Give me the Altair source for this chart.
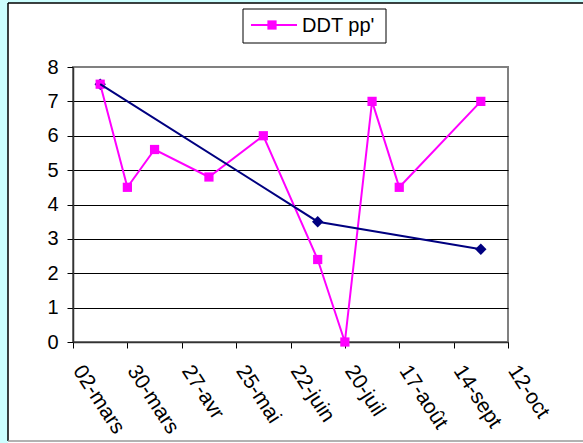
import json
import altair as alt
import pandas as pd

# Sampling dates and measured DDT pp' values
dates = ["2007-03-16", "2007-03-30", "2007-04-13", "2007-05-11", "2007-06-08",
         "2007-07-06", "2007-07-20", "2007-08-03", "2007-08-17", "2007-09-28"]
ddt_pp = [7.5, 4.5, 5.6, 4.8, 6.0, 2.4, 0.0, 7.0, 4.5, 7.0]

# Second (navy) series
trend_dates = ["2007-03-16", "2007-07-06", "2007-09-28"]
trend_values = [7.5, 3.5, 2.7]

# Axis ticks
tick_dates = ["2007-03-02", "2007-03-30", "2007-04-27", "2007-05-25", "2007-06-22",
              "2007-07-20", "2007-08-17", "2007-09-14", "2007-10-12"]
tick_labels = ["02-mars", "30-mars", "27-avr", "25-mai", "22-juin",
               "20-juil", "17-août", "14-sept", "12-oct"]
y_ticks = [0, 1, 2, 3, 4, 5, 6, 7, 8]

FONT = "Liberation Sans"
DAY_MS = 86400000


def ms(d):
    return int(pd.Timestamp(d, tz="UTC").value // 10**6)


df_ddt = pd.DataFrame({"t": [ms(d) for d in dates], "v": ddt_pp})
df_trend = pd.DataFrame({"t": [ms(d) for d in trend_dates], "v": trend_values})
one = pd.DataFrame({"k": [0]})

start = ms(tick_dates[0])
label_expr = "%s[round((datum.value - %d) / %d)]" % (
    json.dumps(tick_labels, ensure_ascii=False), start, 28 * DAY_MS)

x_enc = alt.X(
    "t:T",
    scale=alt.Scale(type="utc", domain=[start, ms(tick_dates[-1])]),
    axis=alt.Axis(
        values=[ms(d) for d in tick_dates], labelExpr=label_expr, title=None,
        labelAngle=57, labelAlign="left", labelBaseline="middle",
        labelPadding=19, labelOffset=4, labelFontSize=21, labelFont=FONT,
        labelColor="#000", tickSize=6, tickColor="#000", grid=False,
        domainColor="#333", domainWidth=1.5, labelOverlap=False,
    ),
)
y_enc = alt.Y(
    "v:Q",
    scale=alt.Scale(domain=[0, 8], nice=False),
    axis=alt.Axis(
        values=y_ticks, title=None, labelFontSize=20, labelFont=FONT,
        labelColor="#000", tickSize=6, tickColor="#000", labelPadding=9,
        domainColor="#333", domainWidth=1.5, labelOverlap=False,
        gridColor={"condition": {"test": "datum.value == 8", "value": "#808080"},
                   "value": "#000000"},
        gridWidth=1,
    ),
)

ddt_line = alt.Chart(df_ddt).mark_line(color="#FF00FF", strokeWidth=2).encode(x=x_enc, y=y_enc)
ddt_pts = alt.Chart(df_ddt).mark_point(
    shape="square", filled=True, size=85, color="#FF00FF", opacity=1
).encode(x=x_enc, y=y_enc)

trend_line = alt.Chart(df_trend).mark_line(color="#000080", strokeWidth=2).encode(x=x_enc, y=y_enc)
trend_pts = alt.Chart(df_trend).mark_point(
    shape="diamond", filled=True, size=130, color="#000080", opacity=1
).encode(x=x_enc, y=y_enc)

# Frame around the chart area
cyan_left = alt.Chart(one).mark_rect(color="#CCFFFF").encode(
    x=alt.value(-73), x2=alt.value(-65), y=alt.value(-67), y2=alt.value(376))
cyan_top = alt.Chart(one).mark_rect(color="#CCFFFF").encode(
    x=alt.value(-73), x2=alt.value(520), y=alt.value(-67), y2=alt.value(-64))
border_left = alt.Chart(one).mark_rule(color="#000", strokeWidth=1.5).encode(
    x=alt.value(-65), y=alt.value(-64), y2=alt.value(374))
border_top = alt.Chart(one).mark_rule(color="#000", strokeWidth=1.5).encode(
    x=alt.value(-65), x2=alt.value(520), y=alt.value(-64))
border_bottom = alt.Chart(one).mark_rule(color="#999", strokeWidth=1.5).encode(
    x=alt.value(-65), x2=alt.value(520), y=alt.value(374))

# Legend box
leg_box = alt.Chart(one).mark_rect(fill="white", stroke="#000", strokeWidth=1).encode(
    x=alt.value(170), x2=alt.value(313), y=alt.value(-58), y2=alt.value(-24))
leg_line = alt.Chart(one).mark_rule(color="#FF00FF", strokeWidth=2).encode(
    x=alt.value(178), x2=alt.value(224), y=alt.value(-42))
leg_pt = alt.Chart(one).mark_point(
    shape="square", filled=True, size=85, color="#FF00FF", opacity=1
).encode(x=alt.value(199), y=alt.value(-42))
leg_text = alt.Chart(one).mark_text(
    text="DDT pp'", align="left", baseline="middle", font=FONT, fontSize=20, color="#000"
).encode(x=alt.value(229), y=alt.value(-41))

chart = alt.layer(
    cyan_left, cyan_top, border_left, border_top, border_bottom,
    ddt_line, trend_pts, ddt_pts, trend_line,
    leg_box, leg_line, leg_pt, leg_text,
).properties(
    width=435, height=275,
    padding={"left": 73, "top": 67, "right": 75, "bottom": 101},
    autosize=alt.AutoSizeParams(type="none"),
    background="white",
).configure_view(stroke="#808080", strokeWidth=2)

chart.save("out.html", embed_options={"renderer": "svg", "actions": False})
